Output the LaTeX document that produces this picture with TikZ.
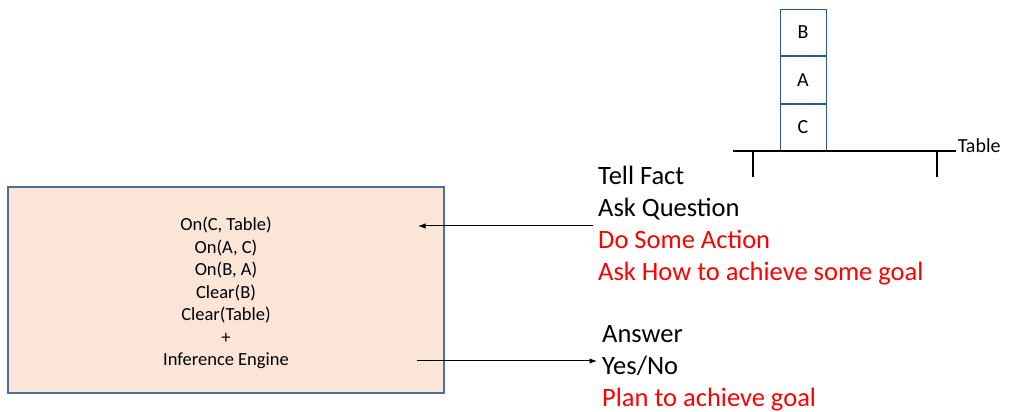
\documentclass[tikz,border=0pt]{standalone}
\usepackage{fontspec}
\setmainfont{Carlito}
\usetikzlibrary{arrows.meta, positioning}

\begin{document}
\begin{tikzpicture}[
        x=1pt, y=1pt,
        kb/.style={draw=kbline, line width=1.5pt, fill=kbfill, minimum width=436pt, minimum height=206pt},
        facts/.style={align=center, font=\fontsize{18.5}{22.5}\selectfont},
        blk/.style={draw=blkline, line width=1pt, minimum width=46pt, minimum height=46.5pt,
                    inner sep=0pt, font=\fontsize{20}{24}\selectfont},
        msg/.style={align=left, anchor=west, inner sep=5pt, font=\fontsize{26.5}{32}\selectfont},
        link/.style={line width=1pt, -{Latex[length=7.5pt, width=5.5pt]}},
        >=Latex
    ]
    \definecolor{kbfill}{HTML}{FBE5D6}
    \definecolor{kbline}{HTML}{4A6FA0}
    \definecolor{blkline}{HTML}{2F5597}
    \useasboundingbox (0,0) rectangle (1017,412);

    % ---- knowledge base ----
    \node[kb] (kb) at (226,122) {};
    \node[facts] (kbtext) at ([yshift=-3pt]kb.center) {On(C, Table)\\On(A, C)\\On(B, A)\\Clear(B)\\Clear(Table)\\+\\Inference Engine};
    \coordinate (kbin) at (418,186);
    \coordinate (kbout) at (417,51);

    % ---- blocks world ----
    \node[blk] (c) at (803,284.5) {C};
    \node[blk, above=0pt of c] (a) {A};
    \node[blk, above=0pt of a] (b) {B};

    % ---- table ----
    \coordinate (tl) at (733,261);
    \coordinate (tr) at (956,261);
    \draw[line width=1.5pt] (tl) -- (tr)
    node[right, inner sep=1pt, yshift=5pt, font=\fontsize{20}{24}\selectfont] (tablelbl) {Table};
    \draw[line width=1.5pt] (753,261) -- ++(0,-26);
    \draw[line width=1.5pt] (937,261) -- ++(0,-26);

    % ---- requests in ----
    \node[msg] (ask) at (593,186) {Tell Fact\\Ask Question\\\textcolor{red}{Do Some Action}\\\textcolor{red}{Ask How to achieve some goal}};
    \draw[link] (ask.west) -- (kbin);

    % ---- replies out ----
    \node[msg] (reply) at (597,43.5) {Answer\\Yes/No\\\textcolor{red}{Plan to achieve goal}};
    \draw[link] (kbout) -- (reply.west |- kbout);

\end{tikzpicture}
\end{document}
